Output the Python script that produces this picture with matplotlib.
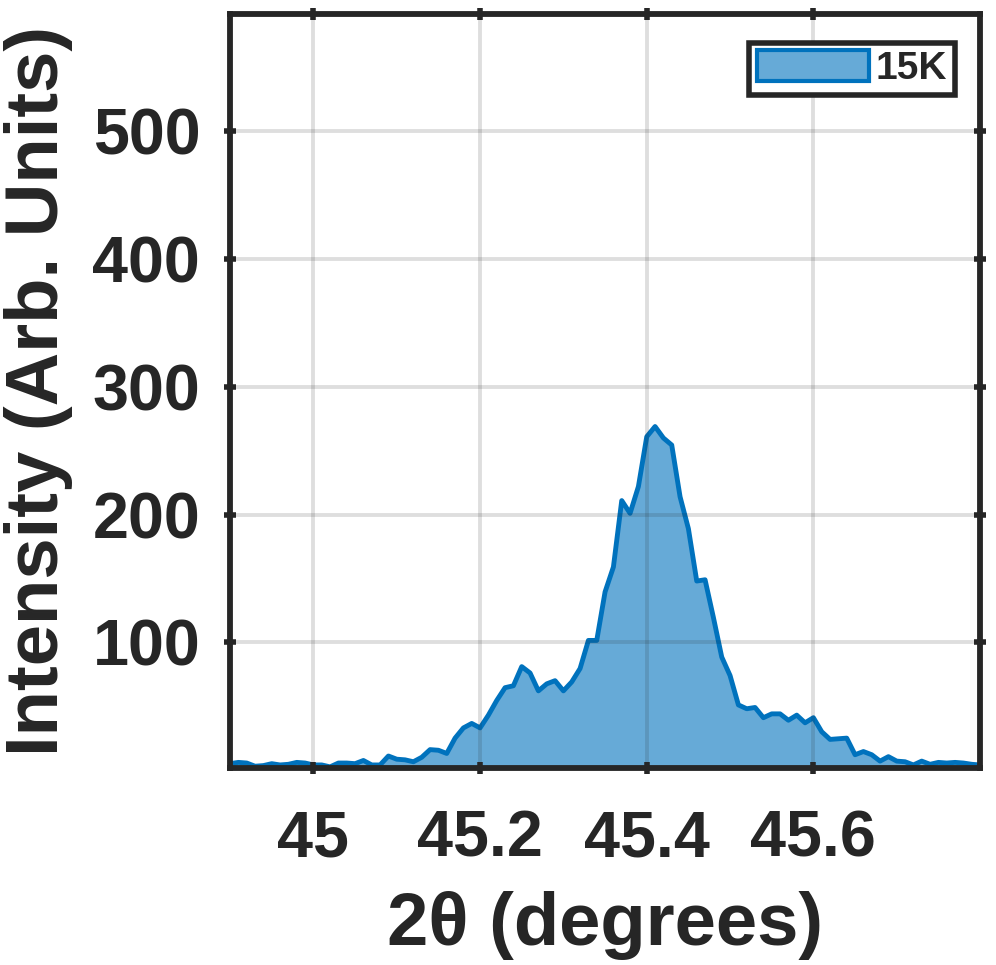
import matplotlib
matplotlib.use('Agg')
import matplotlib.pyplot as plt
from matplotlib.patches import Patch

plt.rcParams['font.family'] = ['Liberation Sans', 'DejaVu Sans']
plt.rcParams['font.weight'] = 'bold'

# 2theta (grados) y intensidad
two_theta = [44.90, 44.91, 44.92, 44.93, 44.94, 44.95, 44.96, 44.97, 44.98, 44.99,
             45.00, 45.01, 45.02, 45.03, 45.04, 45.05, 45.06, 45.07, 45.08, 45.09,
             45.10, 45.11, 45.12, 45.13, 45.14, 45.15, 45.16, 45.17, 45.18, 45.19,
             45.20, 45.21, 45.22, 45.23, 45.24, 45.25, 45.26, 45.27, 45.28, 45.29,
             45.30, 45.31, 45.32, 45.33, 45.34, 45.35, 45.36, 45.37, 45.38, 45.39,
             45.40, 45.41, 45.42, 45.43, 45.44, 45.45, 45.46, 45.47, 45.48, 45.49,
             45.50, 45.51, 45.52, 45.53, 45.54, 45.55, 45.56, 45.57, 45.58, 45.59,
             45.60, 45.61, 45.62, 45.63, 45.64, 45.65, 45.66, 45.67, 45.68, 45.69,
             45.70, 45.71, 45.72, 45.73, 45.74, 45.75, 45.76, 45.77, 45.78, 45.79,
             45.80]
intensity = [5, 6, 5.5, 3, 3.5, 5, 4, 4.5, 6, 5.5,
             4, 4, 2.5, 5.5, 5.5, 5, 7.5, 4, 4, 11,
             8.5, 8, 6.5, 10, 16, 15.5, 13, 25, 33, 36.5,
             33, 43, 54.5, 64.5, 66, 81, 76, 62, 67.5, 70,
             62, 69, 79.5, 101.5, 101.5, 139.5, 159, 211, 201, 222,
             261, 269, 260, 254.5, 214, 189, 148, 149, 119.5, 88.5,
             74, 51, 48, 49, 41, 44, 44, 39, 43, 37,
             41, 30, 24, 24.5, 25, 12, 14.5, 12, 7, 10.5,
             7, 6.5, 4, 7, 4.5, 6, 5.5, 6, 5.5, 4.5,
             4]
label = '15K'

xticks = [45, 45.2, 45.4, 45.6]
xticklabels = ['45', '45.2', '45.4', '45.6']
yticks = [100, 200, 300, 400, 500]

azul = '#0072BD'
gris = '#262626'

fig = plt.figure(figsize=(9.96, 9.65), dpi=100)
ax = fig.add_axes([0.231, 0.204, 0.753, 0.7815])

ax.fill_between(two_theta, intensity, 0, facecolor=azul, alpha=0.6, edgecolor='none', label=label)
ax.plot(two_theta, intensity, color=azul, lw=3.5)

ax.set_xlim(44.9, 45.8)
ax.set_ylim(1.5, 592)
ax.set_xticks(xticks)
ax.set_xticklabels(xticklabels)
ax.set_yticks(yticks)

ax.grid(True, color=gris, alpha=0.15, lw=2.8)
ax.set_axisbelow(False)

for s in ax.spines.values():
    s.set_linewidth(4.2)
    s.set_color(gris)
ax.tick_params(direction='inout', length=9, width=4, colors=gris, labelsize=46.5,
               top=True, right=True)
ax.tick_params(axis='y', pad=17)
ax.tick_params(axis='x', pad=25)

ax.set_xlabel('2θ (degrees)', fontsize=53.5, fontweight='bold', color=gris, labelpad=16)
ax.set_ylabel('Intensity (Arb. Units)', fontsize=53.5, fontweight='bold', color=gris, labelpad=14)

h = Patch(facecolor=(0.4, 0.667, 0.843), edgecolor=azul, lw=3)
leg = ax.legend([h], [label], loc='upper right', bbox_to_anchor=(0.966, 0.962),
                fontsize=28, fancybox=False, edgecolor=gris, framealpha=1,
                borderaxespad=0, handlelength=2.9, handleheight=0.85,
                handletextpad=0.15, borderpad=0.2)
leg.get_frame().set_linewidth(4)
for t in leg.get_texts():
    t.set_color(gris)

fig.savefig('out.png', dpi=100)
